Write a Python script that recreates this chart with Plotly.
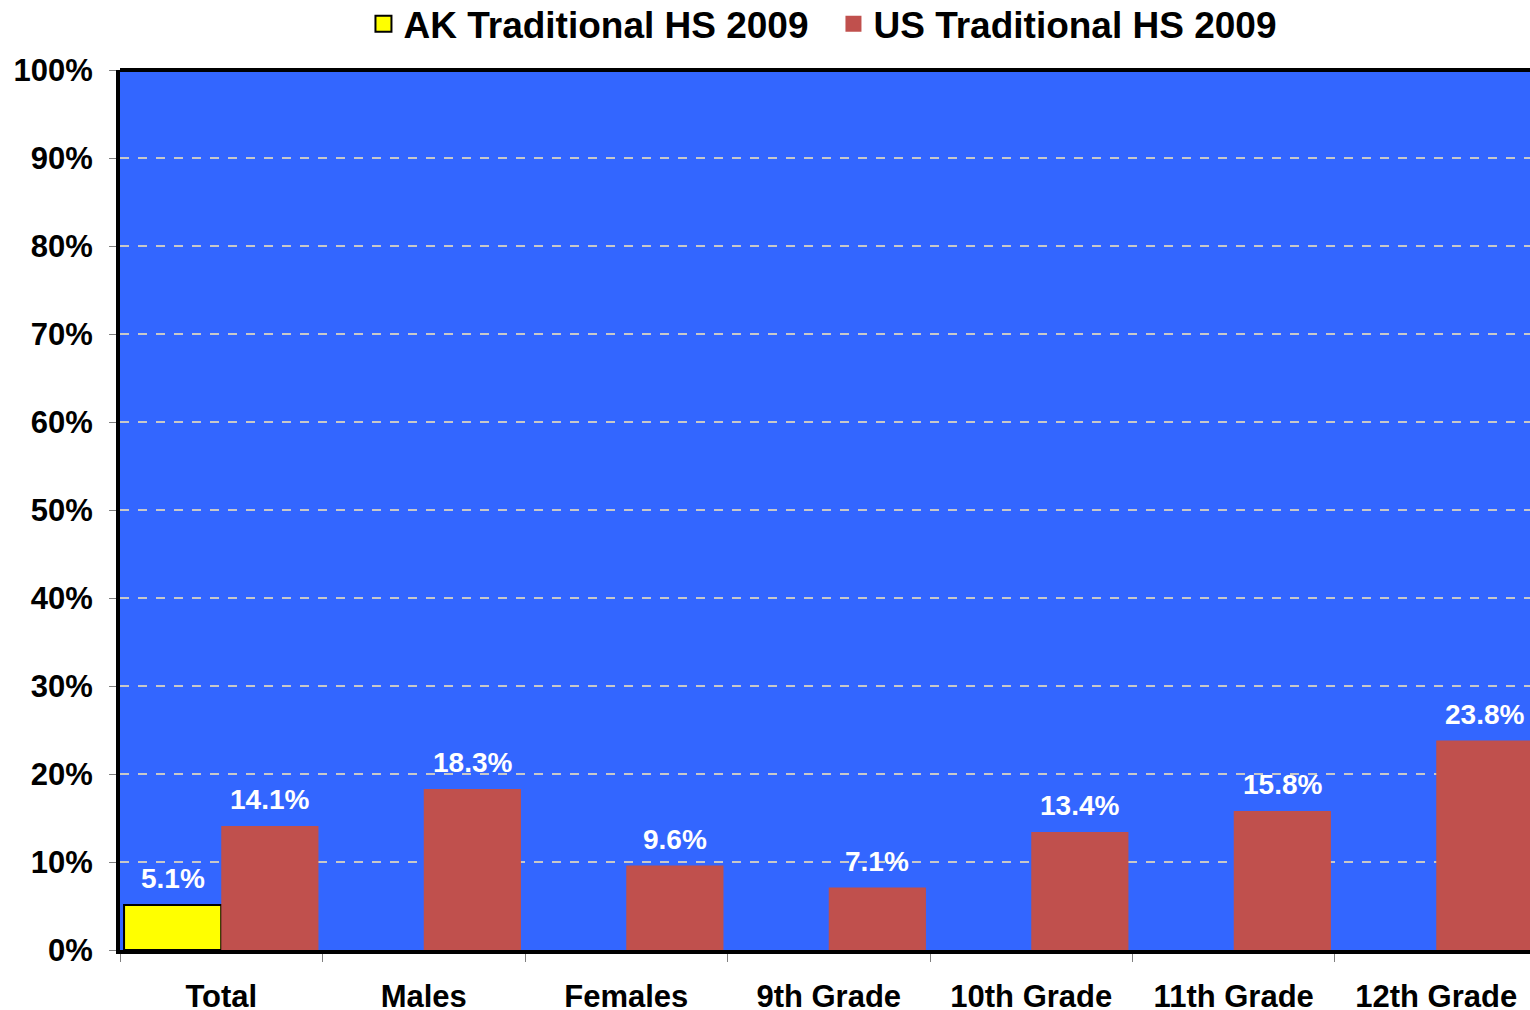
import plotly.graph_objects as go

# chart data
categories = ["Total", "Males", "Females", "9th Grade", "10th Grade", "11th Grade", "12th Grade"]
ak_2009 = [5.1, None, None, None, None, None, None]
us_2009 = [14.1, 18.3, 9.6, 7.1, 13.4, 15.8, 23.8]
y_ticks = list(range(0, 101, 10))
y_tick_labels = [f"{v}%" for v in y_ticks]

font_family = "Liberation Sans, Arial, sans-serif"
ak_color = "#FFFF00"
us_color = "#C0504D"

fig = go.Figure()
fig.add_trace(go.Bar(
    x=categories, y=ak_2009, name="AK Traditional HS 2009", showlegend=False,
    marker=dict(color=ak_color, line=dict(color="black", width=2)),
))
fig.add_trace(go.Bar(
    x=categories, y=us_2009, name="US Traditional HS 2009", showlegend=False,
    marker=dict(color=us_color, line=dict(width=0)),
))
# legend-only entries with bigger square swatches
fig.add_trace(go.Scatter(
    x=[None], y=[None], mode="markers", name="AK Traditional HS 2009",
    marker=dict(symbol="square", size=16, color=ak_color, line=dict(color="black", width=2)),
))
fig.add_trace(go.Scatter(
    x=[None], y=[None], mode="markers", name="US Traditional HS 2009",
    marker=dict(symbol="square", size=16, color=us_color, line=dict(width=0)),
))

# value labels above the bars (left slot = AK, right slot = US)
for series, shift in ((ak_2009, -48.5), (us_2009, 48.5)):
    for cat, val in zip(categories, series):
        if val is None:
            continue
        fig.add_annotation(
            x=cat, y=val, xshift=shift, yshift=9, yanchor="bottom",
            text=f"{val:.1f}%", showarrow=False,
            font=dict(color="white", size=28, family=font_family, weight="bold"),
        )

fig.update_layout(
    width=1530, height=1010,
    margin=dict(l=120, r=0, t=70, b=60, autoexpand=False),
    plot_bgcolor="#3366FF", paper_bgcolor="white",
    barmode="group", bargap=0.04, bargroupgap=0,
    font=dict(family=font_family, color="black", weight="bold"),
    legend=dict(
        orientation="h", xref="paper", x=0.506, xanchor="center",
        yref="paper", y=1.052, yanchor="middle", bgcolor="rgba(0,0,0,0)",
        font=dict(size=37, family=font_family, weight="bold"),
        itemwidth=30, entrywidth=425, entrywidthmode="pixels",
        traceorder="normal", tracegroupgap=0,
    ),
    shapes=[dict(type="line", xref="paper", yref="paper", x0=0, x1=1, y0=1, y1=1,
                 line=dict(color="black", width=4))],
)
fig.update_xaxes(
    range=[-0.5, 6.463], tickson="boundaries", ticks="outside", ticklen=8,
    tickcolor="#808080", showline=True, linecolor="black", linewidth=4,
    tickfont=dict(size=31, family=font_family, weight="bold"),
    ticklabelstandoff=16, showgrid=False, automargin=False,
)
fig.update_yaxes(
    range=[0, 100], tickvals=y_ticks, ticktext=y_tick_labels, ticks="outside", ticklen=7,
    tickcolor="#808080", showline=True, linecolor="black", linewidth=4,
    tickfont=dict(size=31, family=font_family, weight="bold"), ticklabelstandoff=10,
    showgrid=True, gridcolor="#C8C8C8", gridwidth=1.5, griddash="dash",
    zeroline=False, automargin=False,
)

# drop the default 8px page margin so the figure fills the window
fig.write_html("out.html", config={"displayModeBar": False},
               post_script="document.body.style.margin='0';")
